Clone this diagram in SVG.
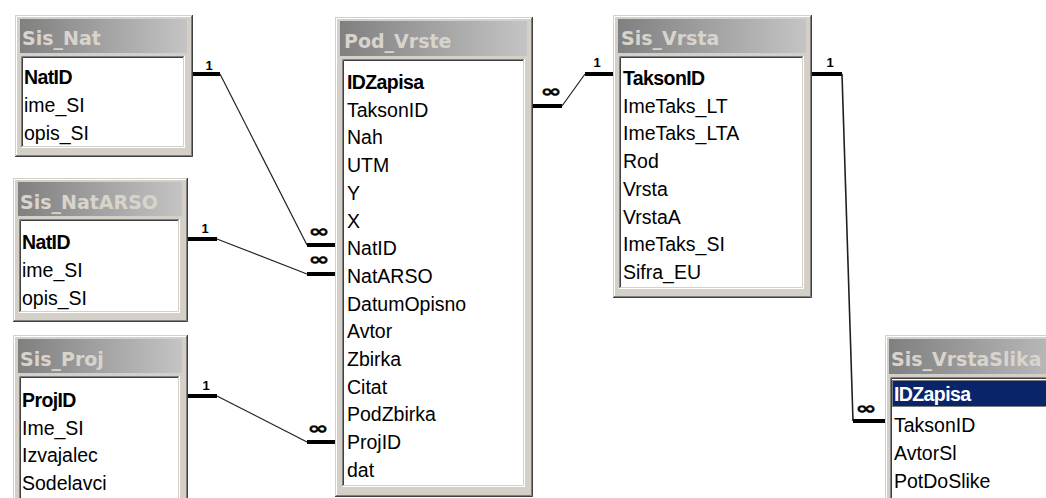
<svg xmlns="http://www.w3.org/2000/svg" width="1046" height="498" viewBox="0 0 1046 498">
<defs>
<linearGradient id="tg" x1="0" y1="0" x2="1" y2="0">
<stop offset="0" stop-color="#808080"/>
<stop offset="1" stop-color="#c4c4c4"/>
</linearGradient>
</defs>
<style>
.frame{fill:#d4d0c8}
.hl{fill:none;stroke:#ffffff;stroke-width:1}
.sh1{fill:none;stroke:#808080;stroke-width:1}
.sh2{fill:none;stroke:#404040;stroke-width:1}
.title{fill:url(#tg)}
.tt{font-family:"DejaVu Sans",sans-serif;font-weight:bold;font-size:19px;fill:#d8d4cc}
.list{fill:#ffffff}
.ld1{fill:none;stroke:#808080;stroke-width:1}
.ld2{fill:none;stroke:#404040;stroke-width:1}
.lw1{fill:none;stroke:#ffffff;stroke-width:1}
.lw2{fill:none;stroke:#d4d0c8;stroke-width:1}
.f{font-family:"Liberation Sans",Arial,sans-serif;font-size:19.5px;fill:#000000}
.k{font-weight:bold;letter-spacing:-0.6px}
.thick{fill:none;stroke:#000000;stroke-width:4}
.thin{fill:none;stroke:#202020;stroke-width:1.2}
.one{font-family:"Liberation Sans",Arial,sans-serif;font-weight:bold;font-size:13px;fill:#000;text-anchor:middle}
.inf{font-family:"DejaVu Sans",sans-serif;font-weight:bold;font-size:17px;fill:#000;text-anchor:middle;stroke:#000;stroke-width:0.4}
</style>
<rect width="1046" height="498" fill="#ffffff"/>

<g id="Sis_Nat" transform="translate(15,15)">
<rect class="frame" width="178" height="142"/>
<path class="hl" d="M1.5 141V1.5H177"/>
<path class="sh1" d="M176.5 1V140.5H1"/>
<path class="sh2" d="M177.5 0V141.5H0"/>
<rect class="title" x="5" y="4" width="167" height="34"/>
<text class="tt" x="7" y="30">Sis_Nat</text>
<rect class="list" x="6" y="41" width="164" height="92"/>
<path class="ld1" d="M6.5 133V41.5H170"/>
<path class="ld2" d="M7.5 132V42.5H169"/>
<path class="lw1" d="M169.5 41V132.5H6"/>
<path class="lw2" d="M168.5 42V131.5H7"/>
<text class="f k" x="9" y="69">NatID</text>
<text class="f" x="9" y="97">ime_SI</text>
<text class="f" x="9" y="125">opis_SI</text>
</g>

<g id="Sis_NatARSO" transform="translate(13,178)">
<rect class="frame" width="175" height="144"/>
<path class="hl" d="M1.5 143V1.5H174"/>
<path class="sh1" d="M173.5 1V142.5H1"/>
<path class="sh2" d="M174.5 0V143.5H0"/>
<rect class="title" x="5" y="4" width="164" height="34"/>
<text class="tt" x="7" y="31">Sis_NatARSO</text>
<rect class="list" x="6" y="41" width="161" height="94"/>
<path class="ld1" d="M6.5 135V41.5H167"/>
<path class="ld2" d="M7.5 134V42.5H166"/>
<path class="lw1" d="M166.5 41V134.5H6"/>
<path class="lw2" d="M165.5 42V133.5H7"/>
<text class="f k" x="9" y="71">NatID</text>
<text class="f" x="9" y="99">ime_SI</text>
<text class="f" x="9" y="127">opis_SI</text>
</g>

<g id="Sis_Proj" transform="translate(13,335)">
<rect class="frame" width="175" height="200"/>
<path class="hl" d="M1.5 199V1.5H174"/>
<path class="sh1" d="M173.5 1V198.5H1"/>
<path class="sh2" d="M174.5 0V199.5H0"/>
<rect class="title" x="5" y="4" width="164" height="34"/>
<text class="tt" x="7" y="31">Sis_Proj</text>
<rect class="list" x="6" y="41" width="161" height="150"/>
<path class="ld1" d="M6.5 191V41.5H167"/>
<path class="ld2" d="M7.5 190V42.5H166"/>
<path class="lw1" d="M166.5 41V190.5H6"/>
<path class="lw2" d="M165.5 42V189.5H7"/>
<text class="f k" x="9" y="72">ProjID</text>
<text class="f" x="9" y="100">Ime_SI</text>
<text class="f" x="9" y="127">Izvajalec</text>
<text class="f" x="9" y="155">Sodelavci</text>
</g>

<g id="Pod_Vrste" transform="translate(335,17)">
<rect class="frame" width="198" height="480"/>
<path class="hl" d="M1.5 479V1.5H197"/>
<path class="sh1" d="M196.5 1V478.5H1"/>
<path class="sh2" d="M197.5 0V479.5H0"/>
<rect class="title" x="5" y="4" width="187" height="35"/>
<text class="tt" x="9" y="31">Pod_Vrste</text>
<rect class="list" x="7" y="42" width="183" height="428"/>
<path class="ld1" d="M7.5 470V42.5H190"/>
<path class="ld2" d="M8.5 469V43.5H189"/>
<path class="lw1" d="M189.5 42V469.5H7"/>
<path class="lw2" d="M188.5 43V468.5H8"/>
<text class="f k" x="12" y="72">IDZapisa</text>
<text class="f" x="12" y="99.7">TaksonID</text>
<text class="f" x="12" y="127.4">Nah</text>
<text class="f" x="12" y="155.1">UTM</text>
<text class="f" x="12" y="182.8">Y</text>
<text class="f" x="12" y="210.5">X</text>
<text class="f" x="12" y="238.2">NatID</text>
<text class="f" x="12" y="265.9">NatARSO</text>
<text class="f" x="12" y="293.6">DatumOpisno</text>
<text class="f" x="12" y="321.3">Avtor</text>
<text class="f" x="12" y="349">Zbirka</text>
<text class="f" x="12" y="376.7">Citat</text>
<text class="f" x="12" y="404.4">PodZbirka</text>
<text class="f" x="12" y="432.1">ProjID</text>
<text class="f" x="12" y="459.8">dat</text>
</g>

<g id="Sis_Vrsta" transform="translate(613,15)">
<rect class="frame" width="199" height="283"/>
<path class="hl" d="M1.5 282V1.5H198"/>
<path class="sh1" d="M197.5 1V281.5H1"/>
<path class="sh2" d="M198.5 0V282.5H0"/>
<rect class="title" x="5" y="4" width="188" height="34"/>
<text class="tt" x="8" y="30">Sis_Vrsta</text>
<rect class="list" x="6" y="41" width="185" height="233"/>
<path class="ld1" d="M6.5 274V41.5H191"/>
<path class="ld2" d="M7.5 273V42.5H190"/>
<path class="lw1" d="M190.5 41V273.5H6"/>
<path class="lw2" d="M189.5 42V272.5H7"/>
<text class="f k" x="10" y="70">TaksonID</text>
<text class="f" x="10" y="97.7">ImeTaks_LT</text>
<text class="f" x="10" y="125.4">ImeTaks_LTA</text>
<text class="f" x="10" y="153.1">Rod</text>
<text class="f" x="10" y="180.8">Vrsta</text>
<text class="f" x="10" y="208.5">VrstaA</text>
<text class="f" x="10" y="236.2">ImeTaks_SI</text>
<text class="f" x="10" y="263.9">Sifra_EU</text>
</g>

<g id="Sis_VrstaSlika" transform="translate(885,335)">
<rect class="frame" width="200" height="200"/>
<path class="hl" d="M1.5 199V1.5H199"/>
<rect class="title" x="4" y="4" width="196" height="35"/>
<text class="tt" x="6" y="31">Sis_VrstaSlika</text>
<rect class="list" x="5" y="42" width="195" height="158"/>
<path class="ld1" d="M5.5 200V42.5H200"/>
<path class="ld2" d="M6.5 200V43.5H200"/>
<rect x="7" y="45" width="193" height="27" fill="#0a246a"/>
<rect x="7.5" y="45.5" width="193" height="26" fill="none" stroke="#e8dc8c" stroke-width="1" stroke-dasharray="1,1"/>
<text class="f k" x="9" y="66" style="fill:#ffffff">IDZapisa</text>
<text class="f" x="9" y="97">TaksonID</text>
<text class="f" x="9" y="125">AvtorSl</text>
<text class="f" x="9" y="153">PotDoSlike</text>
</g>

<g id="connectors">
<path class="thick" d="M193 74H220"/>
<path class="thin" d="M220 74L307 245"/>
<path class="thick" d="M307 245H335"/>
<text class="one" x="209" y="70">1</text>
<text class="inf" transform="translate(319,237) scale(1.5,1)">∞</text>

<path class="thick" d="M188 239H217"/>
<path class="thin" d="M217 239L307 274"/>
<path class="thick" d="M307 274H335"/>
<text class="one" x="205" y="233">1</text>
<text class="inf" transform="translate(319,265) scale(1.5,1)">∞</text>

<path class="thick" d="M188 396H217"/>
<path class="thin" d="M217 396L307 442"/>
<path class="thick" d="M307 442H335"/>
<text class="one" x="206" y="390">1</text>
<text class="inf" transform="translate(318,434) scale(1.5,1)">∞</text>

<path class="thick" d="M533 106H562"/>
<path class="thin" d="M562 106L585 74"/>
<path class="thick" d="M585 74H613"/>
<text class="inf" transform="translate(551,97) scale(1.5,1)">∞</text>
<text class="one" x="597" y="67">1</text>

<path class="thick" d="M812 74H842"/>
<path class="thin" style="stroke-width:1.6" d="M842 74L853 421"/>
<path class="thick" d="M853 421H885"/>
<text class="one" x="830" y="67">1</text>
<text class="inf" transform="translate(866,414) scale(1.5,1)">∞</text>
</g>
</svg>
